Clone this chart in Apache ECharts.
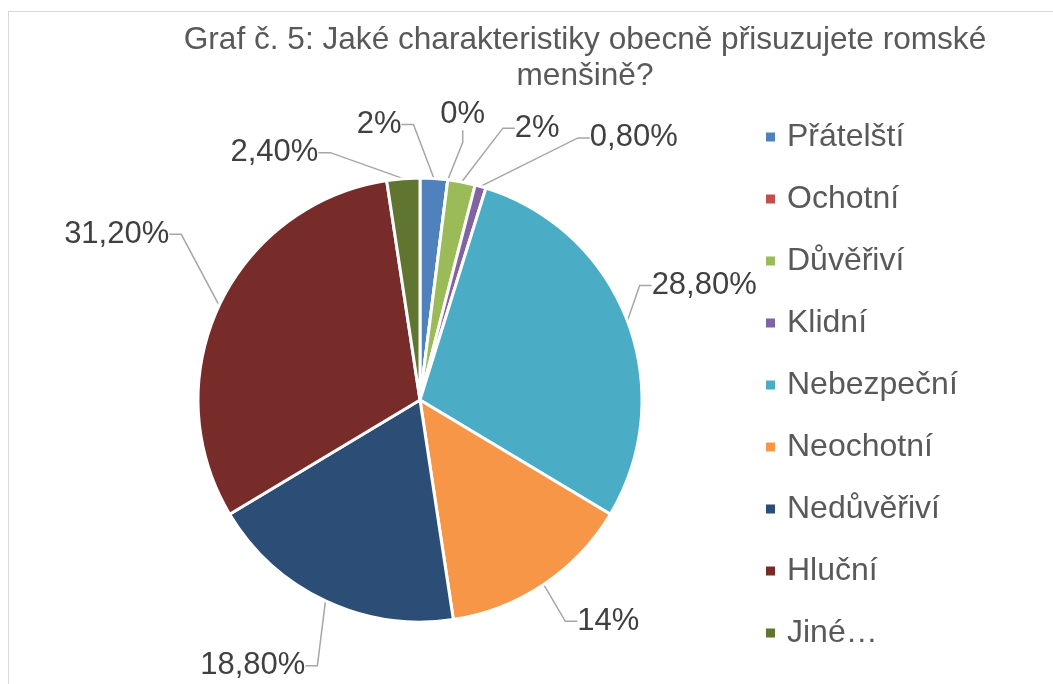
<!DOCTYPE html>
<html>
<head>
<meta charset="utf-8">
<script src="https://cdn.jsdelivr.net/npm/echarts@6/dist/echarts.min.js"></script>
<style>
  body { margin: 0; background: #fff; }
  #frame { position: absolute; left: 8px; top: 11px; width: 1100px; height: 700px; border: 1px solid #d9d9d9; }
  #chart { position: absolute; left: 0; top: 0; width: 1053px; height: 684px; }
</style>
</head>
<body>
<div id="frame"></div>
<div id="chart"></div>
<script>
const categories = ['Přátelští', 'Ochotní', 'Důvěřiví', 'Klidní', 'Nebezpeční', 'Neochotní', 'Nedůvěřiví', 'Hlučn\u00ed', 'Jiné…'];
const percentValues = [2, 0, 2, 0.8, 28.8, 14, 18.8, 31.2, 2.4];
const sliceColors = ['#4f81bd', '#c0504d', '#9bbb59', '#8064a2', '#4bacc6', '#f79646', '#2c4d75', '#772c2a', '#5f7530'];

// Excel-like percent format: whole numbers without decimals, otherwise 2 decimals with comma
function fmtPercent(v) {
  if (Number.isInteger(v)) return v + '%';
  return v.toFixed(2).replace('.', ',') + '%';
}

// how far each label is pushed from where echarts puts it (Excel "best fit" look)
const labelNudge = [
  [-99, -42], [-30, -53], [30, -42], [85, -37], [-8, -31],
  [6, 27], [6, 54], [-18, -66], [-63, -14],
];

const chart = echarts.init(document.getElementById('chart'));

const option = {
  backgroundColor: 'transparent',
  title: {
    text: 'Graf č. 5: Jaké charakteristiky obecně přisuzujete romské\nmenšině?',
    left: 580,
    top: 17,
    textAlign: 'center',
    textStyle: {
      fontFamily: 'Liberation Sans',
      fontSize: 31.6,
      fontWeight: 'normal',
      color: '#595959',
      lineHeight: 36,
    },
  },
  legend: {
    orient: 'vertical',
    left: 759,
    top: 116,
    itemWidth: 11,
    itemHeight: 11,
    itemGap: 30,
    icon: 'rect',
    textStyle: {
      fontFamily: 'Liberation Sans',
      fontSize: 32,
      lineHeight: 32,
      color: '#595959',
      padding: [0, 0, 0, 6],
    },
    data: categories,
  },
  series: [
    {
      type: 'pie',
      center: [420, 400],
      radius: 222,
      startAngle: 90,
      clockwise: true,
      avoidLabelOverlap: false,
      itemStyle: {
        borderColor: '#fff',
        borderWidth: 3,
      },
      label: {
        show: true,
        position: 'outside',
        fontFamily: 'Liberation Sans',
        fontSize: 31,
        color: '#404040',
        padding: [0, 4],
        formatter: (p) => fmtPercent(p.value),
      },
      labelLine: {
        show: true,
        length: 12,
        length2: 12,
        lineStyle: { color: '#a6a6a6', width: 1.5 },
      },
      labelLayout: (params) => {
        const n = labelNudge[params.dataIndex];
        const r = params.labelRect;
        return {
          x: r.x + r.width / 2 + n[0],
          y: r.y + r.height / 2 + n[1],
          align: 'center',
          verticalAlign: 'middle',
        };
      },
      data: categories.map((name, i) => ({
        name,
        value: percentValues[i],
        itemStyle: { color: sliceColors[i] },
      })),
    },
  ],
};

chart.setOption(option);
</script>
</body>
</html>
